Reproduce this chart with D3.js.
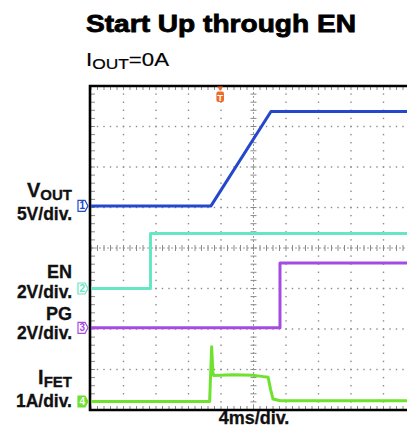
<!DOCTYPE html>
<html><head><meta charset="utf-8">
<script src="https://cdn.jsdelivr.net/npm/d3@7"></script>
<style>
html,body{margin:0;padding:0;background:#fff;}
svg{display:block;font-family:"Liberation Sans",Arial,sans-serif;}
</style></head>
<body><svg id="c" width="407" height="441"></svg>
<script>
// ---- data (time in ms, 4 ms/div; values in channel units) ----
const voutT = [0, 14.77, 22.15, 40];
const voutV = [0, 0, 11.65, 11.65];
const enT = [0, 7.32, 7.32, 40];
const enV = [0, 0, 2.72, 2.72];
const pgT = [0, 23.26, 23.26, 40];
const pgV = [0, 0, 3.2, 3.2];
const ifetT = [0, 14.6, 14.85, 15.0, 15.1, 17.5, 19.9, 21.0, 21.8, 22.1, 22.4, 23.3, 40];
const ifetI = [0, 0, 1.35, 0.72, 0.64, 0.66, 0.65, 0.62, 0.6, 0.3, 0.06, 0.02, 0.02];
const channels = ["1", "2", "3", "4"];
const channelNames = ["VOUT", "EN", "PG", "IFET"];
const channelScales = ["5V/div.", "2V/div.", "2V/div.", "1A/div."];
const voltsPerDiv = [5, 2, 2, 1];
const offsetDiv = [5.04, 3.0, 2.03, 0.21];
const colors = ["#2448cc", "#66e6c4", "#a64ae4", "#6ee22e"];
const timeLabel = "4ms/div.";
const titleText = "Start Up through EN";
const triggerTime = 15.9;

const svg = d3.select("#c");
const x = d3.scaleLinear().domain([0, 40]).range([91, 416]);
const y = d3.scaleLinear().domain([0, 8]).range([410, 86]);
const xDiv = d3.range(0, 41, 4), yDiv = d3.range(0, 9, 1);
const xMinor = d3.range(0, 40.01, 0.8), yMinor = d3.range(0, 8.001, 0.2);

// grid
const g = svg.append("g");
yDiv.filter(d => d > 0 && d < 8 && d !== 4).forEach(d => {
  g.selectAll(null).data(xMinor).enter().append("rect")
    .attr("x", t => x(t) - 0.7).attr("y", y(d) - 0.7).attr("width", 1.4).attr("height", 1.4).attr("fill", "#8a8a8a");
});
xDiv.filter(t => t > 0 && t < 40 && t !== 20).forEach(t => {
  g.selectAll(null).data(yMinor).enter().append("rect")
    .attr("x", x(t) - 0.7).attr("y", d => y(d) - 0.7).attr("width", 1.4).attr("height", 1.4).attr("fill", "#8a8a8a");
});
// center lines with ticks
g.append("line").attr("x1", x(0)).attr("x2", x(40)).attr("y1", y(4)).attr("y2", y(4)).attr("stroke", "#9a9a9a").attr("stroke-width", 1).attr("stroke-dasharray", "2,2");
g.append("line").attr("y1", y(0)).attr("y2", y(8)).attr("x1", x(20)).attr("x2", x(20)).attr("stroke", "#9a9a9a").attr("stroke-width", 1).attr("stroke-dasharray", "2,2");
g.selectAll(null).data(xMinor).enter().append("line")
  .attr("x1", t => x(t)).attr("x2", t => x(t)).attr("y1", y(4) - 3).attr("y2", y(4) + 3).attr("stroke", "#8a8a8a");
g.selectAll(null).data(yMinor).enter().append("line")
  .attr("y1", d => y(d)).attr("y2", d => y(d)).attr("x1", x(20) - 3).attr("x2", x(20) + 3).attr("stroke", "#8a8a8a");
// border ticks
g.selectAll(null).data(xMinor).enter().append("line")
  .attr("x1", t => x(t)).attr("x2", t => x(t)).attr("y1", y(8)).attr("y2", y(8) + 4).attr("stroke", "#8a8a8a");
g.selectAll(null).data(xMinor).enter().append("line")
  .attr("x1", t => x(t)).attr("x2", t => x(t)).attr("y1", y(0) - 4).attr("y2", y(0)).attr("stroke", "#8a8a8a");
g.selectAll(null).data(yMinor).enter().append("line")
  .attr("y1", d => y(d)).attr("y2", d => y(d)).attr("x1", x(0)).attr("x2", x(0) + 4).attr("stroke", "#8a8a8a");

// frame
svg.append("path").attr("d", `M${x(40) + 10},${y(8)}H${x(0) - 1}V${y(0)}H${x(40) + 10}`)
  .attr("fill", "none").attr("stroke", "#000").attr("stroke-width", 2.6);

// traces
const series = [[voutT, voutV], [enT, enV], [pgT, pgV], [ifetT, ifetI]];
series.forEach(([ts, vs], i) => {
  const pts = ts.map((t, k) => [t, vs[k]]);
  const line = d3.line().x(p => x(p[0])).y(p => y(offsetDiv[i] + p[1] / voltsPerDiv[i]));
  svg.append("path").attr("d", line(pts)).attr("fill", "none")
    .attr("stroke", colors[i]).attr("stroke-width", 3).attr("stroke-linejoin", "round");
});

// channel markers
channels.forEach((c, i) => {
  const cy = y(offsetDiv[i]);
  const filled = i === 3;
  svg.append("path")
    .attr("d", `M78,${cy - 5.5}H85L88,${cy}L85,${cy + 5.5}H78Z`)
    .attr("fill", filled ? colors[i] : "#fff").attr("stroke", colors[i]).attr("stroke-width", 1.2);
  svg.append("text").attr("x", 82.2).attr("y", cy + 3.6).attr("text-anchor", "middle")
    .attr("font-size", 10).attr("font-weight", "bold")
    .attr("fill", filled ? "#fff" : colors[i]).text(c);
});

// trigger marker
const tx = x(triggerTime);
svg.append("path").attr("d", `M${tx - 3},86.5L${tx + 3},86.5L${tx},91Z`).attr("fill", "#f06a2a");
svg.append("rect").attr("x", tx - 3.8).attr("y", 91.5).attr("width", 7.6).attr("height", 10.5).attr("rx", 2).attr("fill", "#f06a2a");
svg.append("text").attr("x", tx).attr("y", 100.5).attr("text-anchor", "middle").attr("font-size", 9.5).attr("font-weight", "bold").attr("fill", "#fff").text("T");

// channel labels
const labelBase = [[197, 220], [278, 298], [320, 339], [384, 407]];
channelNames.forEach((n, i) => {
  const t = svg.append("text").attr("x", 72).attr("y", labelBase[i][0]).attr("text-anchor", "end")
    .attr("font-size", 18).attr("font-weight", "bold").attr("fill", "#111")
    .attr("stroke", "#111").attr("stroke-width", 0.3);
  if (n === "VOUT" || n === "IFET") {
    t.append("tspan").attr("font-size", 20).text(n[0]);
    t.append("tspan").attr("font-size", 15).attr("dy", 2.5).text(n.slice(1));
  } else {
    t.text(n);
  }
  svg.append("text").attr("x", 72).attr("y", labelBase[i][1]).attr("text-anchor", "end")
    .attr("font-size", 17.5).attr("font-weight", "bold").attr("fill", "#111")
    .attr("stroke", "#111").attr("stroke-width", 0.3).text(channelScales[i]);
});

// time label
svg.append("text").attr("x", 254).attr("y", 424).attr("text-anchor", "middle")
  .attr("font-size", 18).attr("font-weight", "bold").attr("fill", "#111")
  .attr("stroke", "#111").attr("stroke-width", 0.3).text(timeLabel);

// title
svg.append("text").attr("x", 86).attr("y", 32).attr("font-size", 23.5).attr("font-weight", "bold")
  .attr("fill", "#000").attr("stroke", "#000").attr("stroke-width", 0.8)
  .attr("textLength", 270).attr("lengthAdjust", "spacingAndGlyphs").text(titleText);
const sub = svg.append("text").attr("x", 86).attr("y", 66).attr("font-size", 18.5).attr("fill", "#000")
  .attr("stroke", "#000").attr("stroke-width", 0.2)
  .attr("textLength", 83).attr("lengthAdjust", "spacingAndGlyphs");
sub.append("tspan").text("I");
sub.append("tspan").attr("font-size", 14.5).attr("dy", 2.5).text("OUT");
sub.append("tspan").attr("dy", -2.5).text("=0A");
</script></body></html>
